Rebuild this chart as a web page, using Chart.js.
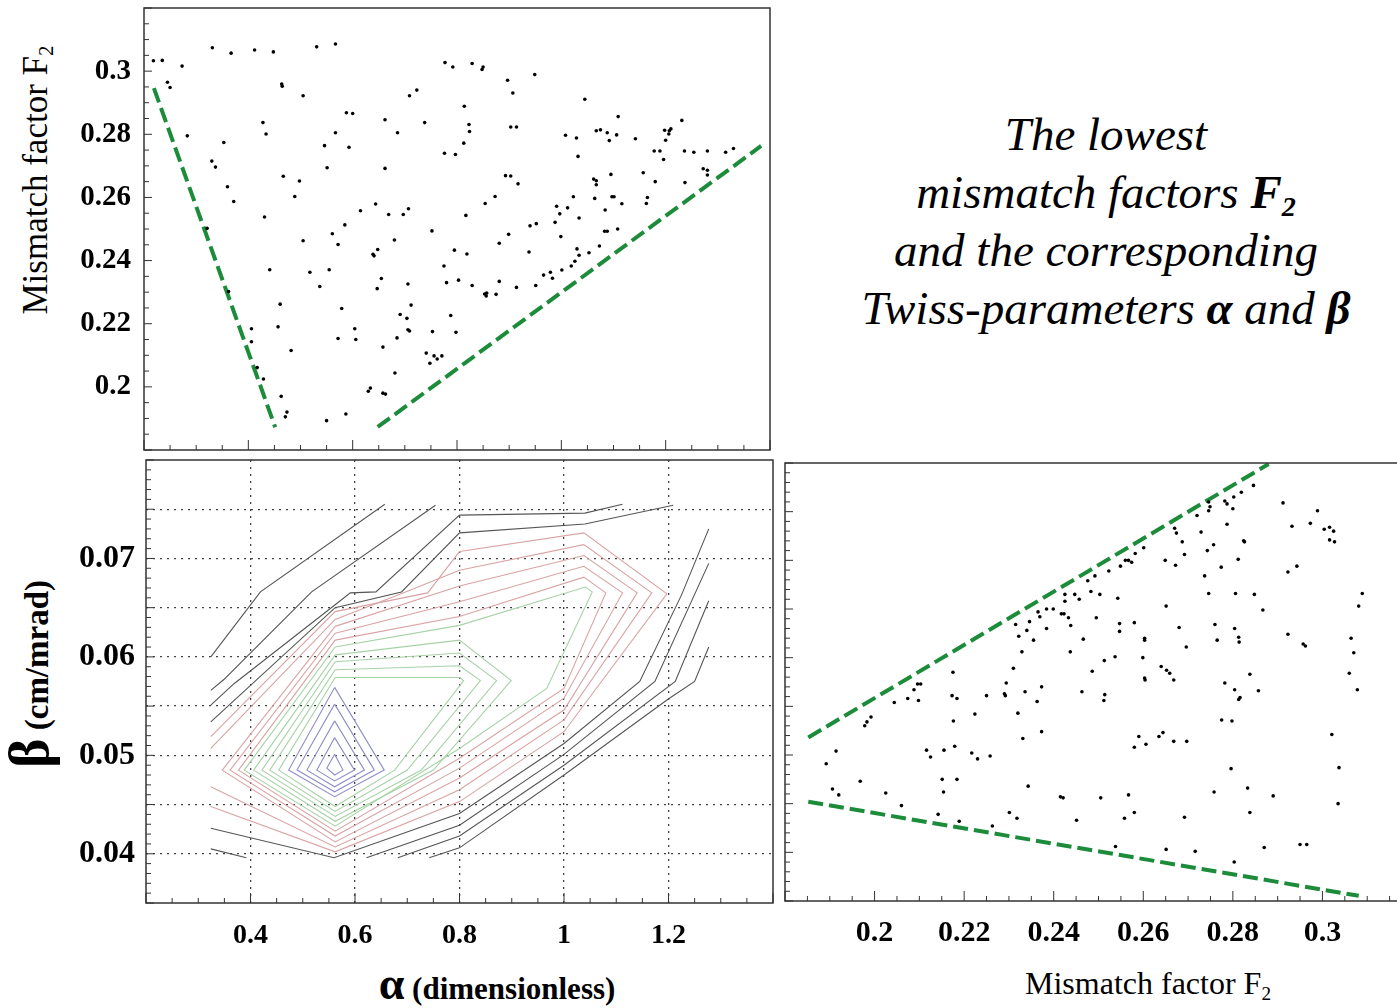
<!DOCTYPE html>
<html>
<head>
<meta charset="utf-8">
<script src="https://cdn.jsdelivr.net/npm/chart.js@4"></script>
<style>
html, body { margin: 0; padding: 0; background: #fff; }
body { width: 1397px; height: 1008px; overflow: hidden; position: relative; font-family: 'Liberation Serif', 'Times New Roman', serif; color: #000; }
canvas { position: absolute; }
#cA { left: 60px; top: 0; }
#cB { left: 60px; top: 455px; }
#cC { left: 780px; top: 455px; }
.t { position: absolute; white-space: nowrap; line-height: 1; }
.rot { transform: translate(-50%, -50%) rotate(-90deg); }
.ctr { transform: translate(-50%, -50%); }
.sub { font-size: 60%; position: relative; top: 0.3em; line-height: 0; }
#note { position: absolute; left: 806px; width: 600px; top: 105px; text-align: center; font-style: italic; font-size: 47px; line-height: 58px; }
</style>
</head>
<body>
<canvas id="cA" width="714" height="458"></canvas>
<canvas id="cB" width="720" height="500"></canvas>
<canvas id="cC" width="640" height="500"></canvas>

<div class="t rot" style="left:35px; top:180px; font-size:35px;">Mismatch factor F<span class="sub">2</span></div>
<div class="t rot" style="left:37px; top:674px; font-size:33px; font-weight:bold;"><span style="font-size:56px; line-height:0">β</span> (cm/mrad)</div>
<div class="t ctr" style="left:497px; top:988px; font-size:31px; font-weight:bold;"><span style="font-size:46px; line-height:0">α</span> (dimensionless)</div>
<div class="t ctr" style="left:1148px; top:983px; font-size:32px;">Mismatch factor F<span class="sub">2</span></div>

<div id="note">The lowest<br>mismatch factors <b>F<span class="sub">2</span></b><br>and the corresponding<br>Twiss-parameters <b>α</b> and <b>β</b></div>

<script>
// tick labels
const alphaLabels = [0.4, 0.6, 0.8, 1, 1.2];
const f2Labels = [0.2, 0.22, 0.24, 0.26, 0.28, 0.3];
const betaLabels = [0.04, 0.05, 0.06, 0.07];
const betaGrid = [0.04, 0.045, 0.05, 0.055, 0.06, 0.065, 0.07, 0.075];

// top-left: F2 vs alpha
const alphaTop = [0.218,0.235,0.331,0.367,0.412,0.448,0.531,0.567,0.273,0.245,
  0.250,0.777,0.792,0.829,0.848,0.850,0.949,0.897,0.907,0.464,
  0.465,0.505,0.709,0.723,1.045,0.814,0.588,0.600,0.662,0.738,
  0.428,0.434,0.283,0.353,0.567,0.546,0.593,0.686,0.776,0.797,
  0.823,0.824,0.813,0.903,0.914,1.109,1.231,1.008,1.029,1.032,
  1.067,1.075,1.088,1.092,1.106,1.142,1.198,1.207,1.210,1.206,
  1.200,1.196,1.178,1.189,1.236,1.254,1.280,1.315,1.330,1.157,
  1.180,1.272,1.280,1.280,1.237,0.330,0.337,0.360,0.372,0.467,
  0.498,0.489,0.551,0.662,0.893,0.903,0.917,1.095,1.062,1.067,
  1.067,1.064,1.097,1.101,1.116,1.084,1.023,1.012,0.991,0.997,
  0.988,0.999,1.034,1.083,1.088,1.108,1.073,1.053,1.030,1.034,
  1.026,1.019,1.001,0.983,0.979,0.966,0.951,0.938,0.940,0.952,
  1.165,1.163,0.854,0.873,0.817,0.752,0.899,0.881,0.795,0.819,
  0.775,0.803,0.780,0.829,0.853,0.856,0.857,0.875,0.881,0.914,
  0.644,0.669,0.697,0.707,0.615,0.585,0.561,0.572,0.505,0.641,
  0.639,0.648,0.680,0.655,0.647,0.706,0.712,0.691,0.704,0.706,
  0.709,0.753,0.788,0.798,0.685,0.658,0.681,0.741,0.748,0.756,
  0.762,0.771,0.431,0.321,0.441,0.518,0.537,0.555,0.579,0.362,
  0.461,0.457,0.482,0.406,0.406,0.417,0.429,0.463,0.474,0.471,
  0.550,0.587,0.572,0.604,0.606,0.630,0.634,0.658,0.663];
const f2Top = [0.3033,0.3034,0.3074,0.3057,0.3067,0.3061,0.3077,0.3086,0.3016,0.2965,
  0.2948,0.3027,0.3013,0.3024,0.3005,0.3013,0.2989,0.2971,0.2931,0.2959,
  0.2952,0.2922,0.2922,0.2940,0.2911,0.2889,0.2868,0.2866,0.2846,0.2837,
  0.2837,0.2801,0.2795,0.2774,0.2805,0.2764,0.2759,0.2805,0.2740,0.2736,
  0.2831,0.2809,0.2772,0.2823,0.2823,0.2856,0.2844,0.2797,0.2788,0.2730,
  0.2811,0.2814,0.2805,0.2780,0.2798,0.2786,0.2813,0.2811,0.2817,0.2801,
  0.2781,0.2720,0.2747,0.2747,0.2747,0.2743,0.2747,0.2743,0.2755,0.2678,
  0.2650,0.2691,0.2686,0.2671,0.2647,0.2715,0.2696,0.2634,0.2587,0.2667,
  0.2652,0.2603,0.2694,0.2692,0.2669,0.2668,0.2643,0.2673,0.2658,0.2653,
  0.2640,0.2597,0.2602,0.2602,0.2580,0.2560,0.2602,0.2567,0.2572,0.2548,
  0.2521,0.2476,0.2535,0.2493,0.2493,0.2500,0.2446,0.2425,0.2437,0.2417,
  0.2398,0.2383,0.2370,0.2344,0.2363,0.2354,0.2321,0.2427,0.2510,0.2517,
  0.2600,0.2581,0.2581,0.2603,0.2543,0.2494,0.2483,0.2455,0.2433,0.2421,
  0.2383,0.2338,0.2330,0.2321,0.2294,0.2288,0.2297,0.2293,0.2334,0.2315,
  0.2579,0.2546,0.2546,0.2564,0.2558,0.2513,0.2485,0.2451,0.2463,0.2415,
  0.2420,0.2435,0.2465,0.2343,0.2311,0.2326,0.2259,0.2229,0.2217,0.2181,
  0.2177,0.2175,0.2226,0.2173,0.2155,0.2126,0.2044,0.2107,0.2075,0.2098,
  0.2088,0.2098,0.2538,0.2502,0.2371,0.2363,0.2318,0.2371,0.2248,0.2302,
  0.2262,0.2190,0.2115,0.2184,0.2143,0.2061,0.2025,0.1970,0.1920,0.1905,
  0.1893,0.1914,0.2153,0.2184,0.2150,0.1986,0.1996,0.1980,0.1977];
const edgeTopLeft = [[0.219, 0.2946], [0.4515, 0.1872]];
const edgeTopRight = [[0.648, 0.1873], [1.383, 0.2763]];

// bottom-right: beta vs F2
const f2Right = [0.2846,0.2819,0.2802,0.2782,0.2787,0.2746,0.2749,0.2746,0.2800,0.2720,
  0.2912,0.2989,0.2932,0.2973,0.3004,0.3016,0.3025,0.3016,0.3027,0.2787,
  0.2729,0.2670,0.2674,0.2687,0.2692,0.2743,0.2757,0.2824,0.2826,0.2601,
  0.2582,0.2560,0.2567,0.2574,0.2549,0.2523,0.2492,0.2476,0.2483,0.2503,
  0.2649,0.2672,0.2737,0.2774,0.2812,0.2923,0.2943,0.2746,0.2806,0.2848,
  0.2867,0.2651,0.2543,0.2425,0.2447,0.2425,0.2457,0.2417,0.2423,0.2433,
  0.2438,0.2495,0.2466,0.2399,0.2384,0.2365,0.2369,0.2346,0.2340,0.2315,
  0.2322,0.2355,0.2329,0.2384,0.2437,0.2547,0.2547,0.2580,0.2603,0.2603,
  0.2680,0.2696,0.2760,0.2765,0.2804,0.2813,0.2814,0.2923,0.2957,0.2962,
  0.3064,0.3070,0.3081,0.3089,0.3060,0.3078,0.3021,0.3037,0.3035,0.2796,
  0.2775,0.2798,0.2782,0.2804,0.2813,0.2816,0.2838,0.2857,0.2758,0.2833,
  0.2838,0.2890,0.2870,0.2803,0.2950,0.2965,0.2716,0.2651,0.2538,0.2692,
  0.2505,0.2415,0.2421,0.2567,0.2580,0.2558,0.2451,0.2599,0.2603,0.2604,
  0.2640,0.2652,0.2659,0.2668,0.2537,0.2513,0.2486,0.2463,0.2514,0.2512,
  0.2373,0.2373,0.2336,0.2363,0.2294,0.2290,0.2292,0.2310,0.2320,0.2331,
  0.2250,0.2224,0.2175,0.2173,0.2184,0.2176,0.2179,0.2096,0.2103,0.2088,
  0.2098,0.2074,0.2044,0.1992,0.1983,0.1978,0.1914,0.1892,0.1906,0.1920,
  0.1968,0.2025,0.2060,0.2116,0.2125,0.2155,0.2217,0.2230,0.2258,0.2151,
  0.2184,0.2154,0.2142,0.2189,0.2263,0.2301,0.2318,0.2343,0.2590,0.2580,
  0.2606,0.2635,0.2644,0.2668,0.2697];
const betaRight = [0.0777,0.0770,0.0765,0.0761,0.0758,0.0760,0.0755,0.0751,0.0753,0.0746,
  0.0759,0.0751,0.0735,0.0738,0.0732,0.0734,0.0730,0.0721,0.0719,0.0737,
  0.0729,0.0733,0.0728,0.0719,0.0706,0.0710,0.0716,0.0720,0.0719,0.0713,
  0.0707,0.0700,0.0700,0.0698,0.0694,0.0689,0.0684,0.0679,0.0668,0.0665,
  0.0700,0.0695,0.0684,0.0693,0.0701,0.0688,0.0694,0.0666,0.0666,0.0665,
  0.0649,0.0653,0.0661,0.0665,0.0665,0.0658,0.0660,0.0645,0.0645,0.0641,
  0.0633,0.0641,0.0619,0.0650,0.0650,0.0647,0.0642,0.0637,0.0628,0.0634,
  0.0622,0.0618,0.0606,0.0630,0.0606,0.0635,0.0627,0.0636,0.0620,0.0618,
  0.0631,0.0611,0.0634,0.0618,0.0630,0.0621,0.0616,0.0624,0.0614,0.0612,
  0.0620,0.0605,0.0653,0.0666,0.0584,0.0567,0.0521,0.0487,0.0450,0.0486,
  0.0536,0.0535,0.0574,0.0567,0.0557,0.0559,0.0583,0.0566,0.0462,0.0466,
  0.0441,0.0458,0.0405,0.0390,0.0408,0.0408,0.0401,0.0403,0.0406,0.0436,
  0.0456,0.0457,0.0456,0.0459,0.0441,0.0435,0.0433,0.0600,0.0579,0.0577,
  0.0591,0.0587,0.0584,0.0577,0.0601,0.0597,0.0586,0.0565,0.0562,0.0556,
  0.0570,0.0524,0.0565,0.0555,0.0574,0.0563,0.0561,0.0589,0.0543,0.0517,
  0.0561,0.0542,0.0585,0.0561,0.0558,0.0535,0.0509,0.0573,0.0573,0.0567,
  0.0556,0.0558,0.0554,0.0539,0.0534,0.0530,0.0504,0.0491,0.0465,0.0459,
  0.0473,0.0461,0.0448,0.0505,0.0498,0.0505,0.0502,0.0496,0.0499,0.0475,
  0.0475,0.0462,0.0439,0.0432,0.0427,0.0441,0.0435,0.0468,0.0519,0.0508,
  0.0511,0.0519,0.0523,0.0514,0.0514];
const edgeRightUpper = [[0.1852, 0.0518], [0.288, 0.0799]];
const edgeRightLower = [[0.1852, 0.0452], [0.3081, 0.03553]];

// bottom-left contour lines, [alpha, beta] vertices
const contourBlack = [
  [[0.324,0.0600],[0.419,0.0666],[0.657,0.0755]],
  [[0.324,0.0566],[0.349,0.0577],[0.517,0.0666],[0.754,0.0754]],
  [[0.324,0.0551],[0.369,0.0573],[0.562,0.0653],[0.591,0.0665],[0.640,0.0666],[0.8,0.0744],[1.040,0.0746],[1.112,0.0755]],
  [[0.324,0.0534],[0.562,0.0650],[0.689,0.0666],[0.8,0.0726],[1.040,0.0735],[1.209,0.0754]],
  [[0.324,0.0426],[0.560,0.0396],[0.8,0.0441],[1.0,0.0512],[1.145,0.0575],[1.225,0.0663],[1.277,0.0730]],
  [[0.324,0.0405],[0.392,0.0396]],
  [[0.622,0.0396],[0.8,0.0429],[1.0,0.0501],[1.174,0.0575],[1.277,0.0695]],
  [[0.682,0.0396],[0.8,0.0418],[1.0,0.0490],[1.213,0.0575],[1.277,0.0657]],
  [[0.742,0.0396],[0.8,0.0406],[1.0,0.0480],[1.199,0.0557],[1.250,0.0575],[1.277,0.0610]]
];
const contourRed = [
  [[0.562,0.0617],[0.8,0.0641],[1.038,0.0681],[1.080,0.0665],[1.0,0.0568],[0.8,0.0497],[0.562,0.0423],[0.377,0.0485],[0.562,0.0617]],
  [[0.562,0.0624],[0.8,0.0656],[1.038,0.0692],[1.112,0.0665],[1.0,0.0558],[0.8,0.0487],[0.562,0.0418],[0.361,0.0485],[0.562,0.0624]],
  [[0.562,0.0631],[0.8,0.0672],[1.038,0.0703],[1.140,0.0665],[1.0,0.0546],[0.8,0.0477],[0.562,0.0412],[0.346,0.0485],[0.562,0.0631]],
  [[0.324,0.0507],[0.562,0.0638],[0.692,0.0665],[0.8,0.0688],[1.038,0.0714],[1.168,0.0665],[1.0,0.0536],[0.8,0.0465],[0.562,0.0407],[0.324,0.0468]],
  [[0.324,0.0519],[0.562,0.0646],[0.739,0.0665],[0.8,0.0707],[1.038,0.0726],[1.197,0.0664],[1.0,0.0524],[0.8,0.0453],[0.562,0.0402],[0.324,0.0448]]
];
const contourGreen = [
  [[0.562,0.0579],[0.8,0.0579],[0.808,0.0576],[0.676,0.0485],[0.562,0.0448],[0.454,0.0485],[0.562,0.0579]],
  [[0.562,0.0587],[0.8,0.0591],[0.840,0.0576],[0.700,0.0485],[0.562,0.0443],[0.437,0.0485],[0.562,0.0587]],
  [[0.562,0.0595],[0.8,0.0604],[0.871,0.0576],[0.727,0.0485],[0.562,0.0438],[0.422,0.0485],[0.562,0.0595]],
  [[0.562,0.0602],[0.8,0.0617],[0.899,0.0576],[0.750,0.0485],[0.562,0.0433],[0.406,0.0485],[0.562,0.0602]],
  [[0.562,0.0610],[0.8,0.0632],[1.041,0.0671],[1.054,0.0666],[0.967,0.0568],[0.8,0.0507],[0.562,0.0428],[0.388,0.0485],[0.562,0.0610]]
];
const contourBlue = [
  [[0.561,0.0501],[0.577,0.0485],[0.561,0.0480],[0.546,0.0487],[0.561,0.0501]],
  [[0.561,0.0518],[0.599,0.0485],[0.561,0.0474],[0.527,0.0485],[0.561,0.0518]],
  [[0.561,0.0535],[0.618,0.0485],[0.561,0.0468],[0.508,0.0485],[0.561,0.0535]],
  [[0.561,0.0552],[0.637,0.0485],[0.561,0.0463],[0.489,0.0485],[0.561,0.0552]],
  [[0.561,0.0569],[0.656,0.0485],[0.561,0.0458],[0.473,0.0485],[0.561,0.0569]]
];

const serif = "'Liberation Serif', 'Times New Roman', serif";
const green = '#1c8c3b';
const num = v => String(Number(v.toFixed(3)));
const near = (v, m) => Math.abs(v / m - Math.round(v / m)) < 1e-6;

function steps(a, b, s) {
  const out = [];
  for (let v = a; v <= b + s / 2; v += s) out.push(Math.round(v * 1e6) / 1e6);
  return out;
}
const pts = (xs, ys) => xs.map((x, i) => ({ x, y: ys[i] }));
const line = (pairs, color, width, dash) => ({
  data: pairs.map(([x, y]) => ({ x, y })),
  showLine: true, borderColor: color, borderWidth: width, borderDash: dash || [],
  pointRadius: 0, fill: false, tension: 0
});
const dots = (xs, ys) => ({ data: pts(xs, ys), pointRadius: 1.8, backgroundColor: '#000', borderWidth: 0 });

// fixed axis size, and no extra room for the end labels
const fixW = w => s => { s.width = w; s.paddingTop = 0; s.paddingBottom = 0; };
const fixH = h => s => { s.height = h; s.paddingLeft = 0; s.paddingRight = 0; };

// box around the plot area, with tick marks pointing inward
const frame = cfg => ({
  id: 'frame',
  afterDraw(chart) {
    const { ctx, chartArea: a, scales: { x, y } } = chart;
    ctx.save();
    ctx.strokeStyle = '#333';
    ctx.lineWidth = 1.5;
    ctx.strokeRect(a.left, a.top, a.right - a.left, a.bottom - a.top);
    ctx.lineWidth = 1;
    ctx.beginPath();
    cfg.xTicks.forEach(v => {
      const p = x.getPixelForValue(v), l = near(v, cfg.xMajor) ? 10 : 5;
      ctx.moveTo(p, a.bottom); ctx.lineTo(p, a.bottom - l);
    });
    cfg.yTicks.forEach(v => {
      const p = y.getPixelForValue(v), l = near(v, cfg.yMajor) ? 8 : 5;
      ctx.moveTo(a.left, p); ctx.lineTo(a.left + l, p);
    });
    ctx.stroke();
    ctx.restore();
  }
});

const base = {
  responsive: false, animation: false, events: [],
  plugins: { legend: { display: false }, tooltip: { enabled: false } }
};
const tickFont = size => ({ family: serif, size, weight: 'bold' });

// top-left
new Chart(document.getElementById('cA'), {
  type: 'scatter',
  data: { datasets: [
    dots(alphaTop, f2Top),
    line(edgeTopLeft, green, 4, [15, 6]),
    line(edgeTopRight, green, 4, [15, 6])
  ] },
  options: { ...base,
    layout: { padding: { left: 0, top: 8, right: 3, bottom: 8 } },
    scales: {
      x: { type: 'linear', min: 0.2, max: 1.4, display: false },
      y: { type: 'linear', min: 0.18, max: 0.32,
        afterBuildTicks: s => { s.ticks = f2Labels.map(v => ({ value: v })); },
        afterFit: fixW(84),
        grid: { display: false, drawTicks: false }, border: { display: false },
        ticks: { padding: 13, color: '#000', font: tickFont(29), callback: v => num(v) } }
    }
  },
  plugins: [frame({ xTicks: steps(0.2, 1.4, 0.05), yTicks: steps(0.18, 0.32, 0.005), xMajor: 0.2, yMajor: 0.02 })]
});

// bottom-left contours
const contourSets = [
  ...contourBlack.map(p => line(p, '#555', 1.1)),
  ...contourRed.map(p => line(p, '#d9a3a3', 1.1)),
  ...contourGreen.map(p => line(p, '#a6d2a6', 1.1)),
  ...contourBlue.map(p => line(p, '#8e8ec8', 1.1))
];
new Chart(document.getElementById('cB'), {
  type: 'scatter',
  data: { datasets: contourSets },
  options: { ...base,
    layout: { padding: { left: 0, top: 5, right: 7, bottom: 0 } },
    scales: {
      x: { type: 'linear', min: 0.2, max: 1.4,
        afterBuildTicks: s => { s.ticks = alphaLabels.map(v => ({ value: v })); },
        afterFit: fixH(52),
        grid: { color: '#444', lineWidth: 1.3, drawTicks: false }, border: { display: false, dash: [2, 5] },
        ticks: { padding: 16, color: '#000', font: tickFont(28), maxRotation: 0, callback: v => num(v) } },
      y: { type: 'linear', min: 0.035, max: 0.08,
        afterBuildTicks: s => { s.ticks = betaGrid.map(v => ({ value: v })); },
        afterFit: fixW(86),
        grid: { color: '#444', lineWidth: 1.3, drawTicks: false }, border: { display: false, dash: [2, 5] },
        ticks: { padding: 11, color: '#000', font: tickFont(32),
          callback: v => betaLabels.some(b => Math.abs(b - v) < 1e-9) ? v.toFixed(2) : '' } }
    }
  },
  plugins: [frame({ xTicks: steps(0.2, 1.4, 0.05), yTicks: steps(0.035, 0.08, 0.001), xMajor: 0.2, yMajor: 0.005 })]
});

// bottom-right
new Chart(document.getElementById('cC'), {
  type: 'scatter',
  data: { datasets: [
    dots(f2Right, betaRight),
    line(edgeRightUpper, green, 4, [15, 6]),
    line(edgeRightLower, green, 4, [15, 6])
  ] },
  options: { ...base,
    layout: { padding: { left: 5, top: 8, right: 8, bottom: 0 } },
    scales: {
      x: { type: 'linear', min: 0.18, max: 0.32,
        afterBuildTicks: s => { s.ticks = f2Labels.map(v => ({ value: v })); },
        afterFit: fixH(54),
        grid: { display: false, drawTicks: false }, border: { display: false },
        ticks: { padding: 14, color: '#000', font: tickFont(30), maxRotation: 0, callback: v => num(v) } },
      y: { type: 'linear', min: 0.035, max: 0.08, display: false }
    }
  },
  plugins: [frame({ xTicks: steps(0.18, 0.32, 0.005), yTicks: steps(0.035, 0.08, 0.001), xMajor: 0.02, yMajor: 0.005 })]
});
</script>
</body>
</html>
